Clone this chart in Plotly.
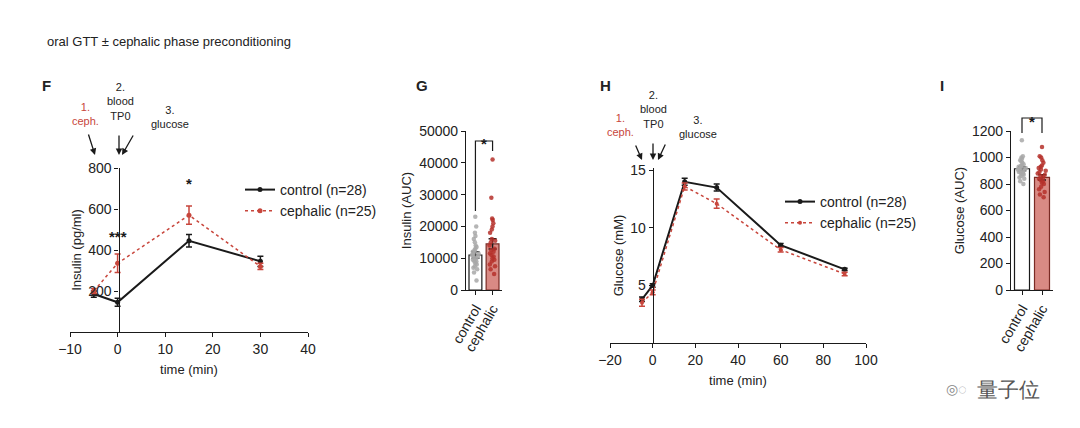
import plotly.graph_objects as go

# Panel F: insulin during oral GTT
ins_time = [-5, 0, 15, 30]
ins_control = [185, 145, 445, 345]
ins_control_err = [15, 20, 30, 25]
ins_cephalic = [200, 335, 570, 320]
ins_cephalic_err = [12, 45, 45, 15]

# Panel G: insulin AUC
groups = ["control", "cephalic"]
ins_auc_mean = [11000, 14500]
ins_auc_err = [1000, 1600]
ins_auc_control_pts = [3000, 5500, 6500, 7000, 7500, 8000, 8500, 9000, 9000, 9500, 10000, 10000,
                       10500, 11000, 11000, 11500, 12000, 12000, 12500, 13000, 13500, 14000,
                       15000, 16000, 17000, 18000, 20000, 23000]
ins_auc_cephalic_pts = [5000, 6500, 7500, 8000, 9000, 9500, 10000, 10500, 11000, 11500, 12000,
                        12500, 13000, 14000, 15000, 15500, 16000, 18000, 19000, 20000, 21000,
                        22000, 22500, 29000, 41000]

# Panel H: glucose during oral GTT
glu_time = [-5, 0, 15, 30, 60, 90]
glu_control = [3.8, 5.0, 14.0, 13.5, 8.5, 6.4]
glu_control_err = [0.2, 0.15, 0.3, 0.3, 0.15, 0.1]
glu_cephalic = [3.5, 4.4, 13.6, 12.1, 8.1, 6.0]
glu_cephalic_err = [0.3, 0.2, 0.3, 0.4, 0.2, 0.15]

# Panel I: glucose AUC
glu_auc_mean = [915, 850]
glu_auc_err = [15, 20]
glu_auc_control_pts = [800, 820, 840, 850, 860, 870, 875, 880, 885, 890, 895, 900, 905, 910, 915,
                       920, 925, 930, 935, 940, 950, 960, 970, 980, 990, 1000, 1010, 1130]
glu_auc_cephalic_pts = [700, 720, 740, 760, 780, 800, 810, 820, 830, 840, 850, 860, 870, 880, 890,
                        900, 910, 920, 930, 940, 960, 980, 1000, 1010, 1080]

BLACK = "#1a1a1a"
RED = "#c8463c"
DOT_RED = "#b5302a"
GREY = "#a8a8a8"
FONT = "Liberation Sans"

fig = go.Figure()

# F
fig.add_trace(go.Scatter(x=ins_time, y=ins_control, name="control (n=28)", mode="lines+markers",
                         line=dict(color=BLACK, width=2), marker=dict(size=5, color=BLACK),
                         error_y=dict(array=ins_control_err, color=BLACK, thickness=1.5, width=3),
                         xaxis="x", yaxis="y", legend="legend"))
fig.add_trace(go.Scatter(x=ins_time, y=ins_cephalic, name="cephalic (n=25)", mode="lines+markers",
                         line=dict(color=RED, width=1.5, dash="dot"), marker=dict(size=5, color=RED),
                         error_y=dict(array=ins_cephalic_err, color=RED, thickness=1.5, width=3),
                         xaxis="x", yaxis="y", legend="legend"))

# G
fig.add_trace(go.Bar(x=groups, y=ins_auc_mean, marker=dict(color=["white", "#d98a84"],
                     line=dict(color=[BLACK, "#7a2a24"], width=1.2)), width=0.75,
                     error_y=dict(array=ins_auc_err, color=BLACK, thickness=1.5, width=4),
                     xaxis="x2", yaxis="y2", showlegend=False))
for g, pts, c in [(groups[0], ins_auc_control_pts, GREY), (groups[1], ins_auc_cephalic_pts, DOT_RED)]:
    fig.add_trace(go.Box(x=[g] * len(pts), y=pts, boxpoints="all", jitter=0.9, pointpos=0,
                         fillcolor="rgba(0,0,0,0)", line=dict(width=0, color="rgba(0,0,0,0)"),
                         marker=dict(size=4.5, color=c, opacity=0.85), hoveron="points",
                         xaxis="x2", yaxis="y2", showlegend=False))

# H
fig.add_trace(go.Scatter(x=glu_time, y=glu_control, name="control (n=28)", mode="lines+markers",
                         line=dict(color=BLACK, width=2), marker=dict(size=5, color=BLACK),
                         error_y=dict(array=glu_control_err, color=BLACK, thickness=1.5, width=3),
                         xaxis="x3", yaxis="y3", legend="legend2"))
fig.add_trace(go.Scatter(x=glu_time, y=glu_cephalic, name="cephalic (n=25)", mode="lines+markers",
                         line=dict(color=RED, width=1.5, dash="dot"), marker=dict(size=4, color=RED),
                         error_y=dict(array=glu_cephalic_err, color=RED, thickness=1.5, width=3),
                         xaxis="x3", yaxis="y3", legend="legend2"))

# I
fig.add_trace(go.Bar(x=groups, y=glu_auc_mean, marker=dict(color=["white", "#d98a84"],
                     line=dict(color=[BLACK, "#7a2a24"], width=1.2)), width=0.75,
                     error_y=dict(array=glu_auc_err, color=BLACK, thickness=1.5, width=4),
                     xaxis="x4", yaxis="y4", showlegend=False))
for g, pts, c in [(groups[0], glu_auc_control_pts, GREY), (groups[1], glu_auc_cephalic_pts, DOT_RED)]:
    fig.add_trace(go.Box(x=[g] * len(pts), y=pts, boxpoints="all", jitter=0.9, pointpos=0,
                         fillcolor="rgba(0,0,0,0)", line=dict(width=0, color="rgba(0,0,0,0)"),
                         marker=dict(size=4.5, color=c, opacity=0.85), hoveron="points",
                         xaxis="x4", yaxis="y4", showlegend=False))

W, H = 1080, 428
px = lambda v: v / W
py = lambda v: 1 - v / H

axis_style = dict(showline=True, linecolor=BLACK, linewidth=1.2, ticks="outside", tickcolor=BLACK,
                  ticklen=4, showgrid=False, zeroline=False, automargin=False,
                  tickfont=dict(size=14, color="#222"))

fig.update_layout(
    width=W, height=H, plot_bgcolor="white", paper_bgcolor="white",
    margin=dict(l=0, r=0, t=0, b=0), font=dict(family=FONT, color="#222"),
    barmode="overlay", boxmode="overlay", separators=".",
    xaxis=dict(domain=[px(62), px(300)], range=[-10, 40], dtick=10, anchor="y",
               title=dict(text="time (min)", font=dict(size=13), standoff=8), **axis_style),
    yaxis=dict(domain=[py(324), py(160)], range=[0, 800], tickvals=[200, 400, 600, 800],
               anchor="free", position=px(110.5),
               title=dict(text="Insulin (pg/ml)", font=dict(size=13), standoff=2), **axis_style),
    xaxis2=dict(domain=[px(458), px(494)], anchor="y2", tickangle=-60, range=[-0.55, 1.55],
                **axis_style),
    yaxis2=dict(domain=[py(282), py(123)], range=[0, 50000], dtick=10000, anchor="x2",
                tickformat="d",
                title=dict(text="Insulin (AUC)", font=dict(size=13), standoff=4), **axis_style),
    xaxis3=dict(domain=[px(602), px(858)], range=[-20, 100], dtick=20, anchor="y3",
                title=dict(text="time (min)", font=dict(size=13), standoff=8), **axis_style),
    yaxis3=dict(domain=[py(335), py(160)], range=[0, 15.2], tickvals=[5, 10, 15],
                anchor="free", position=px(644.7),
                title=dict(text="Glucose (mM)", font=dict(size=13), standoff=2), **axis_style),
    xaxis4=dict(domain=[px(1003), px(1045)], anchor="y4", tickangle=-60, range=[-0.55, 1.55],
                **axis_style),
    yaxis4=dict(domain=[py(282), py(123)], range=[0, 1200], dtick=200, anchor="x4",
                title=dict(text="Glucose (AUC)", font=dict(size=13), standoff=4), **axis_style),
    legend=dict(x=px(232), y=py(166), xanchor="left", yanchor="top", bgcolor="rgba(0,0,0,0)",
                font=dict(size=14), tracegroupgap=2, itemwidth=30),
    legend2=dict(x=px(772), y=py(178), xanchor="left", yanchor="top", bgcolor="rgba(0,0,0,0)",
                 font=dict(size=14), tracegroupgap=2, itemwidth=30),
)

ann = []
def txt(x, y, s, size=12, color="#222", bold=False, xanchor="center"):
    ann.append(dict(x=px(x), y=py(y), xref="paper", yref="paper", text=f"<b>{s}</b>" if bold else s,
                    showarrow=False, font=dict(size=size, color=color), xanchor=xanchor,
                    yanchor="middle", align="center"))

def arrow(x0, y0, x1, y1):
    ann.append(dict(x=px(x1), y=py(y1), xref="paper", yref="paper", ax=x0 - x1, ay=y0 - y1,
                    axref="pixel", ayref="pixel", text="", showarrow=True, arrowhead=2,
                    arrowsize=1, arrowwidth=1.3, arrowcolor=BLACK))

txt(37, 34, "oral GTT ± cephalic phase preconditioning", size=13, xanchor="left")
txt(38, 77, "F", size=15, bold=True)
txt(414, 77, "G", size=15, bold=True)
txt(597, 77, "H", size=15, bold=True)
txt(934, 77, "I", size=15, bold=True)

# F arrows & labels
txt(77, 106, "1.<br>ceph.", size=11, color=RED)
txt(112, 93, "2.<br>blood<br>TP0", size=11)
txt(162, 109, "3.<br>glucose", size=11)
arrow(80, 125, 87, 147)
arrow(111, 126, 111, 147)
arrow(126, 126, 114, 147)
# H arrows & labels
txt(613, 117, "1.<br>ceph.", size=11, color=RED)
txt(645, 101, "2.<br>blood<br>TP0", size=11)
txt(690, 119, "3.<br>glucose", size=11)
arrow(627, 136, 634, 152)
arrow(645, 134, 645, 152)
arrow(658, 135, 650, 152)

# significance stars
for xr, yr, x, y, s in [("x", "y", 0, 465, "***"), ("x", "y", 15, 725, "*"),
                        ("x3", "y3", 30, 15.4, "**")]:
    ann.append(dict(x=x, y=y, xref=xr, yref=yr, text=f"<b>{s}</b>", showarrow=False,
                    font=dict(size=15, color=BLACK)))
for xr, ypix in [("x2", 125), ("x4", 103)]:
    ann.append(dict(x=0.5, y=py(ypix), xref=xr, yref="paper", text="<b>*</b>", showarrow=False,
                    font=dict(size=15, color=BLACK)))

txt(1000, 381, "量子位", size=21, color="#555")
txt(948, 381, "◎◌", size=14, color="#888")
fig.update_layout(annotations=ann)

# significance brackets (pixel rows on the paper, category positions on x)
for xr, ytop, yl, yr2 in [("x2", 133, 203, 143), ("x4", 110, 125, 125)]:
    fig.add_shape(type="path", xref=xr, yref="paper",
                  path=f"M 0 {py(yl)} L 0 {py(ytop)} L 1 {py(ytop)} L 1 {py(yr2)}",
                  line=dict(color=BLACK, width=1.2))

fig.write_html("out.html")
